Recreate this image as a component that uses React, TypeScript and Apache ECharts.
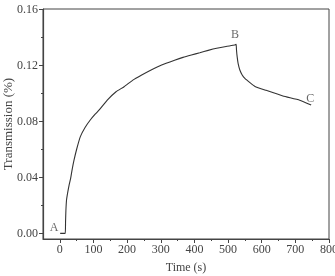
import React, { useEffect, useRef } from "react";
import * as echarts from "echarts";

const timeS = [1, 16, 17, 18, 20, 24, 28, 32, 37, 42, 50, 61, 75, 91, 105, 117, 141, 167, 191, 217, 242, 267, 291, 316, 341, 366, 391, 416, 441, 466, 494, 520, 524, 525, 527, 530, 535, 542, 550, 565, 580, 613, 663, 713, 747];
const transmission = [0, 0, 0.008, 0.016, 0.024, 0.03, 0.035, 0.039, 0.046, 0.052, 0.06, 0.069, 0.0755, 0.081, 0.085, 0.088, 0.095, 0.101, 0.1046, 0.1093, 0.1128, 0.116, 0.1188, 0.1213, 0.1235, 0.1255, 0.1272, 0.1288, 0.1305, 0.132, 0.1333, 0.1343, 0.1348, 0.131, 0.126, 0.121, 0.1165, 0.113, 0.1105, 0.1075, 0.1048, 0.102, 0.098, 0.095, 0.0915];
const xMajor = [0, 100, 200, 300, 400, 500, 600, 700, 800];
const xMinor = [50, 150, 250, 350, 450, 550, 650, 750];
const yMajor = [0, 0.04, 0.08, 0.12, 0.16];
const yMinor = [0.02, 0.06, 0.1, 0.14];
const pointNames = ["A", "B", "C"];
const pointX = [-17, 521, 744];
const pointY = [0.0047, 0.142, 0.0963];

const FONT = "Liberation Serif";
const INK = "#444";

export default function App() {
  const ref = useRef<HTMLDivElement>(null);
  useEffect(() => {
    const chart = echarts.init(ref.current!, null, { renderer: "svg" });
    const baseX = { type: "value", min: -50, max: 800, splitLine: { show: false } };
    const baseY = { type: "value", min: -0.004, max: 0.16, splitLine: { show: false } };
    chart.setOption({
      animation: false,
      grid: {
        left: 43,
        right: 6,
        top: 9,
        bottom: 37,
        show: true,
        borderColor: INK,
        borderWidth: 1,
        containLabel: false,
        outerBoundsMode: "none",
      },
      xAxis: [
        {
          ...baseX,
          name: "Time (s)",
          nameLocation: "middle",
          nameGap: 22,
          nameMoveOverlap: false,
          nameTextStyle: { fontFamily: FONT, fontSize: 12, color: INK },
          axisLine: { show: true, onZero: false, lineStyle: { color: INK, width: 1.2 } },
          axisTick: { show: true, length: 4, customValues: xMajor, lineStyle: { color: INK } },
          axisLabel: { show: true, margin: 4, customValues: xMajor, fontFamily: FONT, fontSize: 12, color: INK },
        },
        {
          ...baseX,
          position: "bottom",
          axisLine: { show: false, onZero: false },
          axisTick: { show: true, length: 2, customValues: xMinor, lineStyle: { color: INK } },
          axisLabel: { show: false },
        },
      ],
      yAxis: [
        {
          ...baseY,
          name: "Transmission (%)",
          nameLocation: "middle",
          nameGap: 29,
          nameMoveOverlap: false,
          nameTextStyle: { fontFamily: FONT, fontSize: 13, color: INK },
          axisLine: { show: true, onZero: false, lineStyle: { color: INK, width: 1.2 } },
          axisTick: { show: true, length: 4, customValues: yMajor, lineStyle: { color: INK } },
          axisLabel: {
            show: true,
            margin: 5,
            customValues: yMajor,
            fontFamily: FONT,
            fontSize: 12,
            color: INK,
            formatter: (v: number) => v.toFixed(2),
          },
        },
        {
          ...baseY,
          position: "left",
          axisLine: { show: false, onZero: false },
          axisTick: { show: true, length: 2, customValues: yMinor, lineStyle: { color: INK } },
          axisLabel: { show: false },
        },
      ],
      series: [
        {
          type: "line",
          xAxisIndex: 0,
          yAxisIndex: 0,
          showSymbol: false,
          symbol: "none",
          smooth: 0.15,
          lineStyle: { color: "#333", width: 1.1 },
          data: timeS.map((t, i) => [t, transmission[i]]),
        },
        {
          type: "scatter",
          xAxisIndex: 0,
          yAxisIndex: 0,
          symbolSize: 0,
          label: {
            show: true,
            position: "inside",
            formatter: "{b}",
            fontFamily: FONT,
            fontSize: 12,
            color: INK,
          },
          data: pointNames.map((n, i) => ({ name: n, value: [pointX[i], pointY[i]] })),
        },
      ],
    });
    return () => chart.dispose();
  }, []);
  return <div ref={ref} style={{ position: "fixed", left: 0, top: 0, width: 335, height: 276 }} />;
}
